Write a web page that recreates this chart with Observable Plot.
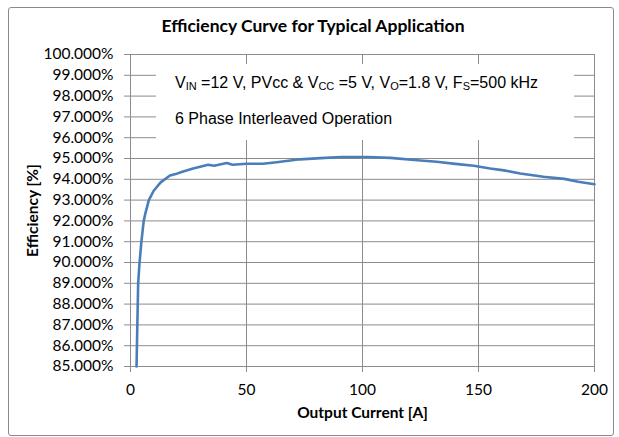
<!DOCTYPE html>
<html><head><meta charset="utf-8">
<script src="https://cdn.jsdelivr.net/npm/d3@7"></script>
<script src="https://cdn.jsdelivr.net/npm/@observablehq/plot@0.6"></script>
<style>
body{margin:0;background:#fff;}
#wrap{position:relative;width:619px;height:437px;overflow:hidden;font-family:Lato,sans-serif;}
#frame{position:absolute;left:8px;top:7px;width:606px;height:429px;border:1px solid #8a8a8a;border-radius:3px;box-sizing:border-box;}
#title{position:absolute;left:0;width:626px;top:17px;line-height:17.5px;text-align:center;font-family:Lato,sans-serif;font-weight:bold;font-size:17.5px;color:#000;white-space:nowrap;}
#chart{position:absolute;left:0;top:0;}
#note{position:absolute;left:156px;top:64px;width:418px;height:76px;background:#fff;font-family:"Liberation Sans",Arial,sans-serif;font-size:16px;color:#000;}
#note div{position:absolute;left:19px;line-height:16px;white-space:nowrap;}
#note sub{font-size:11px;vertical-align:-2px;line-height:0;}
</style>
</head><body>
<div id="wrap">
  <div id="frame"></div>
  <div id="chart"></div>
  <div id="note">
    <div style="top:11px">V<sub>IN</sub> =12 V, PVcc &amp; V<sub>CC</sub> =5 V, V<sub>O</sub>=1.8 V, F<sub>S</sub>=500 kHz</div>
    <div style="top:46.5px">6 Phase Interleaved Operation</div>
  </div>
  <div id="title">Efficiency Curve for Typical Application</div>
</div>
<script>
// Output current [A]
const current = [2.6, 3.3, 3.9, 4.7, 5.7, 6.5, 7.9, 10, 13, 17, 19.5, 22, 27, 33.5, 36, 41.5, 44, 50, 57, 63, 73, 82, 91, 102, 112, 125, 132, 140, 148, 155, 161, 168, 178, 187, 193, 200];
// Efficiency [%]
const efficiency = [85, 89, 90, 91, 92, 92.4, 93, 93.45, 93.85, 94.18, 94.25, 94.35, 94.52, 94.7, 94.65, 94.78, 94.7, 94.75, 94.75, 94.82, 94.96, 95.02, 95.07, 95.07, 95.03, 94.9, 94.84, 94.74, 94.65, 94.52, 94.43, 94.28, 94.12, 94.02, 93.88, 93.76];
const xTicks = [0, 50, 100, 150, 200];
const yTicks = [85, 86, 87, 88, 89, 90, 91, 92, 93, 94, 95, 96, 97, 98, 99, 100];
const xLabel = "Output Current [A]";
const yLabel = "Efficiency [%]";

const data = current.map((c, i) => ({current: c, eff: efficiency[i]}));
const grid = "#8c8c8c";
const fmt = d => d.toFixed(3) + "%";

const chart = Plot.plot({
  width: 619, height: 437,
  marginLeft: 130, marginRight: 25, marginTop: 54, marginBottom: 71,
  style: {fontFamily: "Lato, sans-serif", fontSize: "15.5px", color: "#000", background: "transparent", overflow: "visible"},
  x: {domain: [0, 200]},
  y: {domain: [85, 100]},
  marks: [
    Plot.gridY(yTicks, {stroke: grid, strokeOpacity: 1}),
    Plot.gridX(xTicks.filter(d => d > 0), {stroke: grid, strokeOpacity: 1}),
    Plot.ruleX([0], {stroke: grid}),
    Plot.axisY(yTicks, {tickSize: 6, tickPadding: 11, stroke: grid, tickFormat: fmt, label: null}),
    Plot.axisX(xTicks, {tickSize: 6, tickPadding: 11, stroke: grid, label: null}),
    Plot.line(data, {x: "current", y: "eff", stroke: "#4A7EBB", strokeWidth: 2.6}),
    Plot.text([yLabel], {frameAnchor: "left", textAnchor: "middle", lineAnchor: "middle", rotate: -90, dx: -97, fontWeight: "bold", fill: "#000"}),
    Plot.text([xLabel], {frameAnchor: "bottom", textAnchor: "middle", lineAnchor: "middle", dy: 47, fontWeight: "bold", fill: "#000"})
  ]
});
document.getElementById("chart").appendChild(chart);
</script>
</body></html>
